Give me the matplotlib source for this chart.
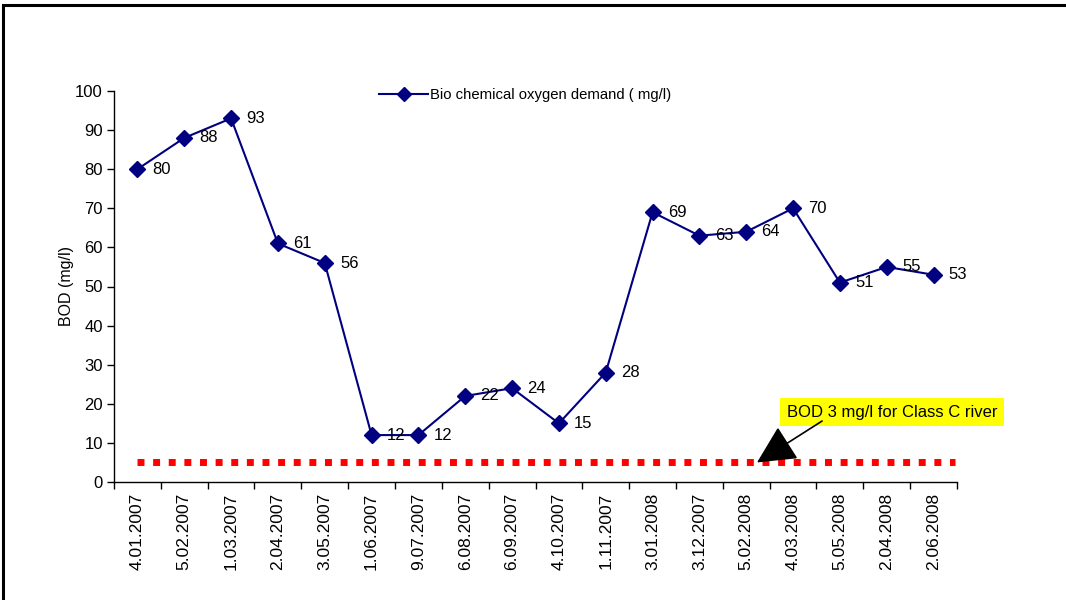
import matplotlib
matplotlib.use("Agg")
import matplotlib.pyplot as plt
from matplotlib.patches import Rectangle

dates = ["4.01.2007", "5.02.2007", "1.03.2007", "2.04.2007", "3.05.2007",
         "1.06.2007", "9.07.2007", "6.08.2007", "6.09.2007", "4.10.2007",
         "1.11.2007", "3.01.2008", "3.12.2007", "5.02.2008", "4.03.2008",
         "5.05.2008", "2.04.2008", "2.06.2008"]
bod = [80, 88, 93, 61, 56, 12, 12, 22, 24, 15, 28, 69, 63, 64, 70, 51, 55, 53]
standard_level = 5
yticks = list(range(0, 101, 10))

plt.rcParams["font.family"] = ["Liberation Sans", "DejaVu Sans"]

fig = plt.figure(figsize=(10.66, 6.0), dpi=100)
ax = fig.add_axes([114 / 1066, 1 - 482 / 600, (957 - 114) / 1066, (482 - 91) / 600])

x = list(range(len(bod)))
navy = "#000080"
ax.plot(x, bod, color=navy, lw=1.5, marker="D", ms=8, mfc=navy, mec=navy,
        label="Bio chemical oxygen demand ( mg/l)", zorder=3)

for xi, v in zip(x, bod):
    ax.annotate(str(v), (xi, v), xytext=(11, 0), textcoords="offset points",
                ha="left", va="center", fontsize=12, color="black")

# Class C river standard
ax.plot([0, 17.45], [standard_level, standard_level], color="#ff0000", lw=5,
        linestyle=(0, (1, 1.25)), solid_capstyle="butt", dash_capstyle="butt", zorder=2)

ax.text(16.11, 17.9, "BOD 3 mg/l for Class C river", ha="center", va="center",
        fontsize=12, bbox=dict(boxstyle="square,pad=0.4", fc="#ffff00", ec="none"),
        zorder=5, clip_on=False)
ax.annotate("", xy=(13.23, standard_level), xytext=(14.62, 15.6),
            arrowprops=dict(arrowstyle="-|>,head_length=1.1,head_width=0.55",
                            color="black", lw=1.2, shrinkA=0, shrinkB=0,
                            mutation_scale=22),
            annotation_clip=False, zorder=6)

ax.set_xlim(-0.5, len(bod) - 0.5)
ax.set_ylim(0, 100)
ax.set_yticks(yticks)
ax.set_yticklabels([str(t) for t in yticks], fontsize=12)
ax.set_xticks(x)
ax.set_xticklabels(dates, rotation=90, fontsize=12.5)
ax.tick_params(axis="x", length=0, pad=8)
ax.set_xticks([i - 0.5 for i in range(len(bod) + 1)], minor=True)
ax.tick_params(axis="x", which="minor", length=5, direction="out", width=1)
ax.tick_params(axis="y", length=5, direction="out", width=1, pad=3)
for side in ("top", "right"):
    ax.spines[side].set_visible(False)
for side in ("left", "bottom"):
    ax.spines[side].set_linewidth(1)
    ax.spines[side].set_color("black")

ax.set_ylabel("BOD (mg/l)", fontsize=11.5, labelpad=1)

fig.legend(loc="center left", bbox_to_anchor=(372 / 1066, 1 - 95 / 600),
           frameon=False, fontsize=10.7, handlelength=3.3, handletextpad=0.1,
           borderpad=0, markerscale=0.85)

# outer chart frame
fig.patches.append(Rectangle((3 / 1066, -0.2), 1.5, 1.2 - 5 / 600,
                             transform=fig.transFigure, fill=False,
                             ec="black", lw=2.2))

fig.savefig("out.png", dpi=100)
